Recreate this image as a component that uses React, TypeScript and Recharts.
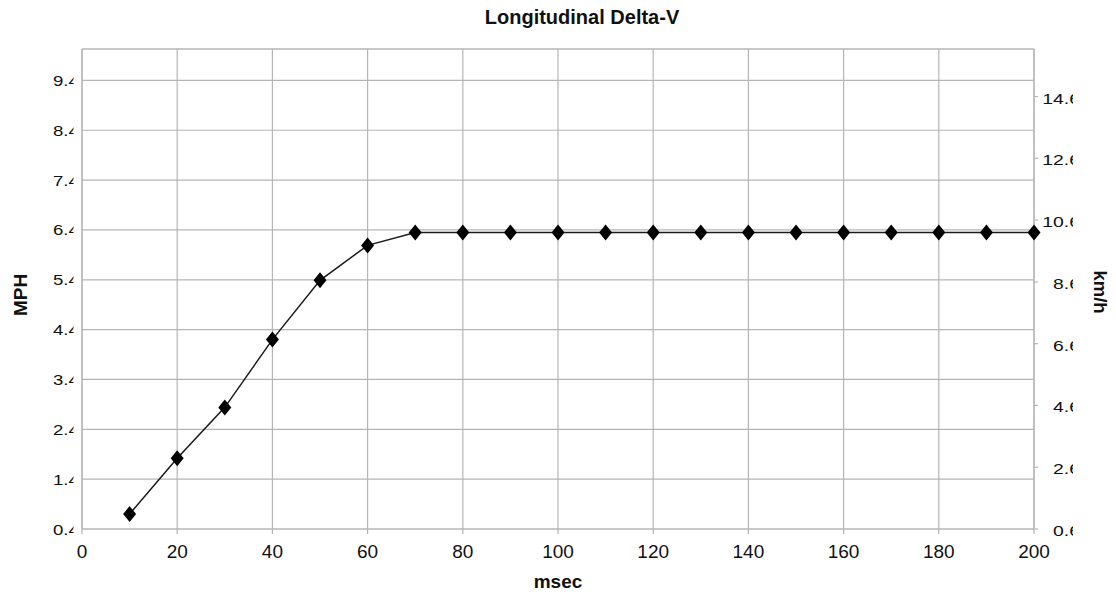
import React from "react";
import { LineChart, Line, XAxis, YAxis, CartesianGrid, ReferenceLine } from "recharts";

const FONT = '"Liberation Sans", Arial, Helvetica, sans-serif';
const GRID = "#b5b5b5";
const INK = "#111111";

const msec = [10, 20, 30, 40, 50, 60, 70, 80, 90, 100, 110, 120, 130, 140, 150, 160, 170, 180, 190, 200];
const mph = [0.7, 1.82, 2.84, 4.2, 5.39, 6.09, 6.35, 6.35, 6.35, 6.35, 6.35, 6.35, 6.35, 6.35, 6.35, 6.35, 6.35, 6.35, 6.35, 6.35];

const msecTicks = [0, 20, 40, 60, 80, 100, 120, 140, 160, 180, 200];
const mphTicks = [0.4, 1.4, 2.4, 3.4, 4.4, 5.4, 6.4, 7.4, 8.4, 9.4];
const kmhTicks = [0.6, 2.6, 4.6, 6.6, 8.6, 10.6, 12.6, 14.6];

const MPH_MIN = 0.4;
const MPH_MAX = 10.03;
const KMH_MIN = 0.6;
const KMH_MAX = 16.14;

const data = msec.map((m, i) => ({ msec: m, mph: mph[i] }));

const XTick = ({ x, y, payload }: any) => (
  <text x={x} y={y + 24} textAnchor="middle" fontSize={19} fontFamily={FONT} fill={INK}>
    {payload.value}
  </text>
);

// the y tick labels are cut off at the axis in the original
const LeftTick = ({ x, y, payload, index }: any) => {
  const id = `lclip${index}`;
  return (
    <g>
      <clipPath id={id}>
        <rect x={x - 45} y={y - 15} width={36.5} height={30} />
      </clipPath>
      <g clipPath={`url(#${id})`}>
        <text transform={`translate(${x - 29},${y + 5.5}) scale(1.2,1)`} fontSize={15.5} fontFamily={FONT} fill={INK}>
          {payload.value.toFixed(1)}
        </text>
      </g>
    </g>
  );
};

const RightTick = ({ x, y, payload, index }: any) => {
  const id = `rclip${index}`;
  return (
    <g>
      <clipPath id={id}>
        <rect x={x} y={y - 15} width={35} height={30} />
      </clipPath>
      <g clipPath={`url(#${id})`}>
        <text transform={`translate(${x + 42},${y + 7}) scale(1.25,1)`} textAnchor="end" fontSize={15.5} fontFamily={FONT} fill={INK}>
          {payload.value.toFixed(1)}
        </text>
      </g>
    </g>
  );
};

const Diamond = (props: any) => {
  const { cx, cy, index } = props;
  if (cx == null || cy == null) return <g key={`d${index}`} />;
  return <path key={`d${index}`} d={`M${cx},${cy - 8} L${cx + 6.5},${cy} L${cx},${cy + 8} L${cx - 6.5},${cy} Z`} fill="#000" />;
};

const MphLabel = ({ viewBox }: any) => {
  const cx = viewBox.x + 20;
  const cy = viewBox.y + viewBox.height / 2 + 6;
  return (
    <text transform={`translate(${cx},${cy}) rotate(-90)`} textAnchor="middle" dominantBaseline="central" fontSize={19} fontWeight="bold" fontFamily={FONT} fill={INK}>
      MPH
    </text>
  );
};

const KmhLabel = ({ viewBox }: any) => {
  const cx = viewBox.x + 66;
  const cy = viewBox.y + viewBox.height / 2 + 3;
  return (
    <text transform={`translate(${cx},${cy}) rotate(90)`} textAnchor="middle" dominantBaseline="central" fontSize={18.5} fontWeight="bold" fontFamily={FONT} fill={INK}>
      km/h
    </text>
  );
};

const MsecLabel = ({ viewBox }: any) => (
  <text x={viewBox.x + viewBox.width / 2} y={viewBox.y + 59} textAnchor="middle" fontSize={19} fontWeight="bold" fontFamily={FONT} fill={INK}>
    msec
  </text>
);

export default function App() {
  return (
    <div style={{ position: "absolute", left: 0, top: 0, width: 1116, height: 596, background: "#fff" }}>
      <div
        style={{
          position: "absolute",
          left: 382,
          top: 6,
          width: 400,
          textAlign: "center",
          fontFamily: FONT,
          fontWeight: "bold",
          fontSize: 20,
          lineHeight: "23px",
          color: INK,
        }}
      >
        Longitudinal Delta-V
      </div>
      <LineChart width={1116} height={596} data={data} margin={{ top: 49, right: 0, bottom: 0, left: 0 }}>
        <CartesianGrid yAxisId="left" stroke={GRID} strokeWidth={1.2} />
        <XAxis
          dataKey="msec"
          type="number"
          domain={[0, 200]}
          ticks={msecTicks}
          height={67}
          tickSize={5}
          tickMargin={0}
          axisLine={{ stroke: GRID, strokeWidth: 1.2 }}
          tickLine={{ stroke: GRID, strokeWidth: 1.2 }}
          tick={<XTick />}
          interval={0}
          label={<MsecLabel />}
        />
        <YAxis
          yAxisId="left"
          type="number"
          domain={[MPH_MIN, MPH_MAX]}
          ticks={mphTicks}
          width={82}
          tickSize={0}
          tickMargin={0}
          axisLine={{ stroke: GRID, strokeWidth: 1.2 }}
          tickLine={false}
          tick={<LeftTick />}
          interval={0}
          allowDataOverflow
          label={<MphLabel />}
        />
        <YAxis
          yAxisId="right"
          orientation="right"
          type="number"
          domain={[KMH_MIN, KMH_MAX]}
          ticks={kmhTicks}
          width={82}
          tickSize={4}
          tickMargin={0}
          axisLine={{ stroke: GRID, strokeWidth: 1.2 }}
          tickLine={{ stroke: GRID, strokeWidth: 1.2 }}
          tick={<RightTick />}
          interval={0}
          allowDataOverflow
          label={<KmhLabel />}
        />
        <ReferenceLine yAxisId="left" y={MPH_MAX} stroke={GRID} strokeWidth={1.2} />
        <Line
          yAxisId="left"
          type="linear"
          dataKey="mph"
          stroke="#1a1a1a"
          strokeWidth={1.5}
          dot={Diamond}
          activeDot={false}
          isAnimationActive={false}
        />
      </LineChart>
    </div>
  );
}
